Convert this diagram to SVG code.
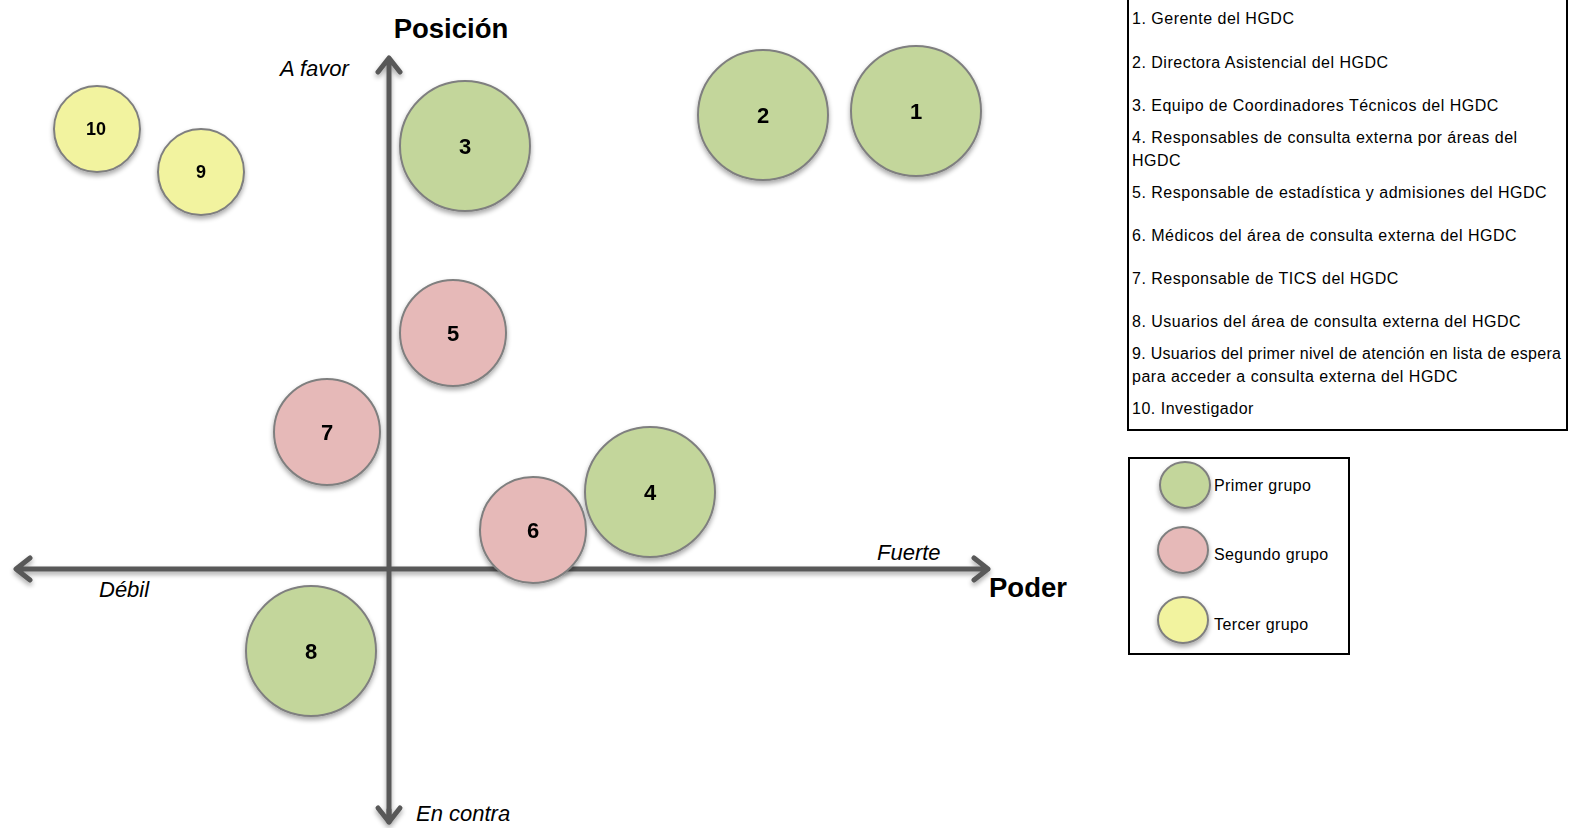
<svg xmlns="http://www.w3.org/2000/svg" width="1572" height="828" viewBox="0 0 1572 828">
<style>
.ax{stroke:#595959;stroke-width:5;fill:none;stroke-linecap:round;stroke-linejoin:round}
.c{stroke:#7f7f7f;stroke-width:2}
.g{fill:#c3d69b}.p{fill:#e6b9b8}.y{fill:#f2f39f}
.n{font-family:"Liberation Sans",Arial,sans-serif;font-weight:bold;font-size:22px;text-anchor:middle;fill:#000}
.n9{font-size:18px}
.lt{font-family:"Liberation Sans",Arial,sans-serif;font-size:16px;fill:#000;letter-spacing:0.5px}
.lg{letter-spacing:0.4px}
.it{font-family:"Liberation Sans",Arial,sans-serif;font-style:italic;font-size:22px;fill:#000}
.bt{font-family:"Liberation Sans",Arial,sans-serif;font-weight:bold;font-size:27.5px;fill:#000}
.box{fill:#fff;stroke:#000;stroke-width:2}
</style>
<defs>
<filter id="sh" x="-20%" y="-20%" width="140%" height="150%">
<feGaussianBlur in="SourceAlpha" stdDeviation="2.5"/>
<feOffset dx="0" dy="3" result="b"/>
<feComponentTransfer><feFuncA type="linear" slope="0.35"/></feComponentTransfer>
<feMerge><feMergeNode/><feMergeNode in="SourceGraphic"/></feMerge>
</filter>
</defs>
<rect width="1572" height="828" fill="#fff"/>
<g id="connectors" filter="url(#sh)">
<path class="ax" d="M389 822 V60 M378 72 L389 58 L400 72"/>
<path class="ax" d="M389 810 L389 822 M378 808 L389 822 L400 808"/>
<path class="ax" d="M17 569 H988 M30 558 L16 569 L30 580 M974 558 L988 569 L974 580"/>
</g>
<g id="axis-labels">
<text class="bt" x="451" y="38" text-anchor="middle">Posición</text>
<text class="it" x="280" y="76">A favor</text>
<text class="it" x="99" y="597">Débil</text>
<text class="it" x="877" y="560">Fuerte</text>
<text class="bt" x="989" y="597">Poder</text>
<text class="it" x="416" y="821">En contra</text>
</g>
<g id="node-1" filter="url(#sh)"><circle class="c g" cx="916" cy="111" r="65"/><text class="n" x="916" y="119">1</text></g>
<g id="node-2" filter="url(#sh)"><circle class="c g" cx="763" cy="115" r="65"/><text class="n" x="763" y="123">2</text></g>
<g id="node-3" filter="url(#sh)"><circle class="c g" cx="465" cy="146" r="65"/><text class="n" x="465" y="154">3</text></g>
<g id="node-5" filter="url(#sh)"><circle class="c p" cx="453" cy="333" r="53"/><text class="n" x="453" y="341">5</text></g>
<g id="node-7" filter="url(#sh)"><circle class="c p" cx="327" cy="432" r="53"/><text class="n" x="327" y="440">7</text></g>
<g id="node-4" filter="url(#sh)"><circle class="c g" cx="650" cy="492" r="65"/><text class="n" x="650" y="500">4</text></g>
<g id="node-6" filter="url(#sh)"><circle class="c p" cx="533" cy="530" r="53"/><text class="n" x="533" y="538">6</text></g>
<g id="node-8" filter="url(#sh)"><circle class="c g" cx="311" cy="651" r="65"/><text class="n" x="311" y="659">8</text></g>
<g id="node-9" filter="url(#sh)"><circle class="c y" cx="201" cy="172" r="43"/><text class="n n9" x="201" y="178">9</text></g>
<g id="node-10" filter="url(#sh)"><circle class="c y" cx="97" cy="129" r="43"/><text class="n n9" x="96" y="135">10</text></g>
<g id="legend-list">
<rect class="box" x="1128" y="-5" width="439" height="435"/>
<text class="lt" x="1132" y="24">1. Gerente del HGDC</text>
<text class="lt" x="1132" y="68">2. Directora Asistencial del HGDC</text>
<text class="lt" x="1132" y="111">3. Equipo de Coordinadores Técnicos del HGDC</text>
<text class="lt" x="1132" y="143">4. Responsables de consulta externa por áreas del</text>
<text class="lt" x="1132" y="166">HGDC</text>
<text class="lt" x="1132" y="198">5. Responsable de estadística y admisiones del HGDC</text>
<text class="lt" x="1132" y="241">6. Médicos del área de consulta externa del HGDC</text>
<text class="lt" x="1132" y="284">7. Responsable de TICS del HGDC</text>
<text class="lt" x="1132" y="327">8. Usuarios del área de consulta externa del HGDC</text>
<text class="lt" x="1132" y="359" style="letter-spacing:0" textLength="429" lengthAdjust="spacing">9. Usuarios del primer nivel de atención en lista de espera</text>
<text class="lt" x="1132" y="382">para acceder a consulta externa del HGDC</text>
<text class="lt" x="1132" y="414">10. Investigador</text>
</g>
<g id="legend-groups">
<rect class="box" x="1129" y="458" width="220" height="196"/>
<ellipse class="c g" cx="1185" cy="485" rx="25" ry="23" filter="url(#sh)"/>
<text class="lt lg" x="1214" y="491">Primer grupo</text>
<ellipse class="c p" cx="1183" cy="550" rx="25" ry="23" filter="url(#sh)"/>
<text class="lt lg" x="1214" y="560">Segundo grupo</text>
<ellipse class="c y" cx="1183" cy="620" rx="25" ry="23" filter="url(#sh)"/>
<text class="lt lg" x="1214" y="630">Tercer grupo</text>
</g>
</svg>
